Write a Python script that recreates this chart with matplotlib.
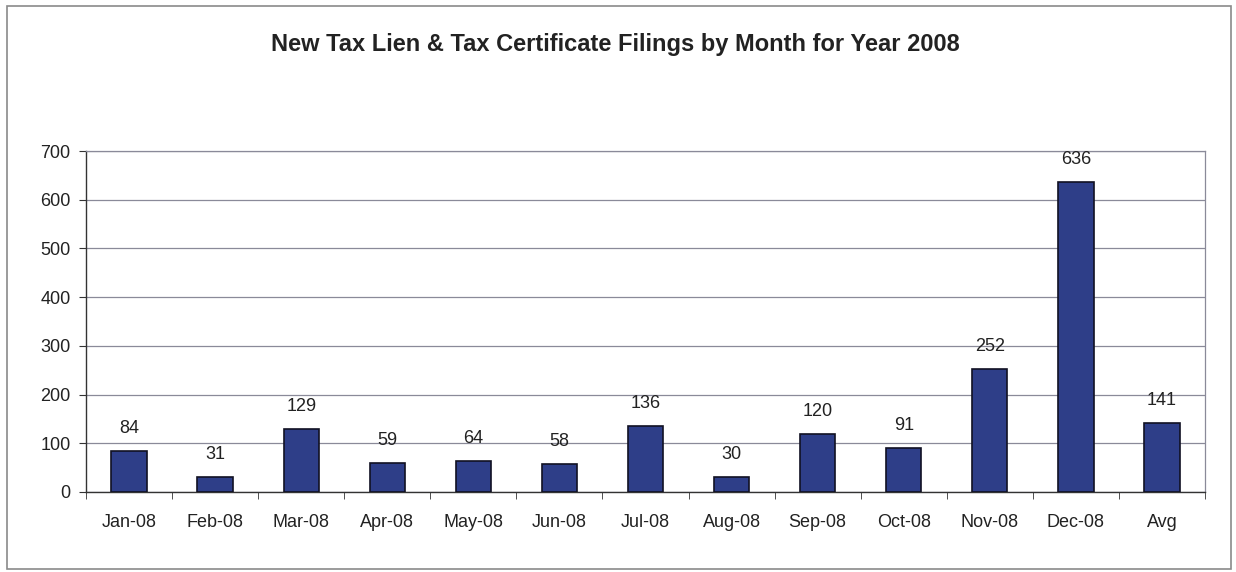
import matplotlib
matplotlib.use("Agg")
import matplotlib.pyplot as plt
from matplotlib.patches import Rectangle
import numpy as np

categories = ["Jan-08", "Feb-08", "Mar-08", "Apr-08", "May-08", "Jun-08", "Jul-08",
              "Aug-08", "Sep-08", "Oct-08", "Nov-08", "Dec-08", "Avg"]
values = [84, 31, 129, 59, 64, 58, 136, 30, 120, 91, 252, 636, 141]
yticks = [0, 100, 200, 300, 400, 500, 600, 700]
title = "New Tax Lien & Tax Certificate Filings by Month for Year 2008"

plt.rcParams['font.family'] = ['Liberation Sans', 'DejaVu Sans']

fig = plt.figure(figsize=(12.36, 5.72), dpi=100)
fig.patch.set_facecolor("white")

# outer chart border
fig.patches.append(Rectangle((7/1236, 3/572), 1224/1236, 563/572, transform=fig.transFigure,
                             fill=False, edgecolor="#8a8a8a", linewidth=1.2))

ax = fig.add_axes([86/1236, 80/572, (1205-86)/1236, (492-151)/572])
x = np.arange(len(categories))
bars = ax.bar(x, values, width=0.41, color="#2E3E88", edgecolor="#111122", linewidth=1.2, zorder=3)

for xi, v in zip(x, values):
    ax.annotate(str(v), (xi, v), xytext=(0, 10), textcoords="offset points",
                ha="center", va="bottom", fontsize=13, color="#222222")

ax.set_xlim(-0.5, len(categories) - 0.5)
ax.set_ylim(0, 700)
ax.set_yticks(yticks)
ax.set_yticklabels([str(t) for t in yticks], fontsize=13, color="#222222")
ax.set_xticks(x)
ax.set_xticklabels(categories, fontsize=13, color="#222222")
ax.tick_params(axis="x", which="major", length=0, pad=16)
ax.set_xticks(np.arange(-0.5, len(categories), 1.0), minor=True)
ax.tick_params(axis="x", which="minor", length=5, direction="out", color="#333333")
ax.tick_params(axis="y", length=5, direction="out", color="#333333", pad=6)

ax.yaxis.grid(True, color="#8a8a99", linewidth=0.9, zorder=0)
ax.set_axisbelow(True)
for s in ["top", "right"]:
    ax.spines[s].set_color("#8a8a99")
    ax.spines[s].set_linewidth(0.9)
for s in ["left", "bottom"]:
    ax.spines[s].set_color("#333333")
    ax.spines[s].set_linewidth(1.0)

fig.text(615/1236, 1 - 45/572, title, ha="center", va="center",
         fontsize=17, fontweight="bold", color="#222222")

fig.savefig("out.png", dpi=100)
